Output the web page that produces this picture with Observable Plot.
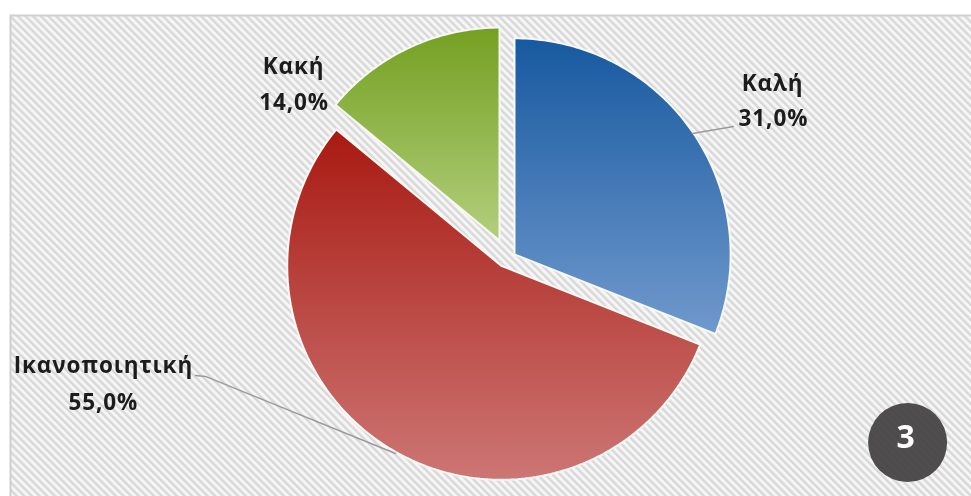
<!DOCTYPE html>
<html>
<head>
<meta charset="utf-8">
<style>
html,body{margin:0;padding:0;background:#fff;overflow:hidden}
svg{display:block}
svg text.lab, .lab text{letter-spacing:0.9px}
</style>
<script src="https://cdn.jsdelivr.net/npm/d3@7"></script>
<script src="https://cdn.jsdelivr.net/npm/@observablehq/plot@0.6"></script>
</head>
<body>
<div id="chart"></div>
<script>
// Data
const categories = ["Καλή", "Ικανοποιητική", "Κακή"];
const shares = [31, 55, 14];
const badge = "3";

// Layout (one pie radius = 1 on both position scales)
const W = 971, H = 496, R = 214, CX = 505, CY = 255;
const explodeX = [0.042, -0.020, -0.028];
const explodeY = [-0.005, 0.048, -0.070];
const radii = [1.01, 1.0, 0.995];
const gradientStops = [["#17599f", "#7099cd"], ["#a81a12", "#cd7674"], ["#74a021", "#b3cf7d"]];
const labelNameX = [1.248, -1.879, -0.990];
const labelNameY = [-0.804, 0.514, -0.883];
const labelValueX = [1.252, -1.879, -0.988];
const labelValueY = [-0.640, 0.687, -0.715];

const fmt = v => v.toFixed(1).replace(".", ",") + "%";
const total = d3.sum(shares);

// Slice outlines from cumulative shares
let cum = 0;
const slices = shares.map((v, i) => {
  const a0 = cum / total * 2 * Math.PI;
  cum += v;
  const a1 = cum / total * 2 * Math.PI;
  const pts = [{x: explodeX[i], y: explodeY[i]}];
  const n = Math.ceil((a1 - a0) / (Math.PI / 180));
  for (let k = 0; k <= n; k++) {
    const a = a0 + (a1 - a0) * k / n;
    pts.push({x: explodeX[i] + radii[i] * Math.sin(a), y: explodeY[i] - radii[i] * Math.cos(a)});
  }
  pts.push(pts[0]);
  return pts;
});

const leaders = [
  [{x: 0.874, y: -0.570}, {x: 1.065, y: -0.603}],
  [{x: -1.449, y: 0.561}, {x: -1.402, y: 0.565}, {x: -0.514, y: 0.925}]
];

const nameLabels = categories.map((c, i) => ({x: labelNameX[i], y: labelNameY[i], t: c}));
const valueLabels = shares.map((v, i) => ({x: labelValueX[i], y: labelValueY[i], t: fmt(v)}));

function defs() {
  const g = d3.create("svg:defs");
  const p = g.append("pattern").attr("id", "hatch").attr("patternUnits", "userSpaceOnUse")
    .attr("width", 5.4).attr("height", 5.4).attr("patternTransform", "rotate(-45)");
  p.append("rect").attr("width", 5.4).attr("height", 5.4).attr("fill", "#f6f6f6");
  p.append("rect").attr("width", 2.4).attr("height", 5.4).attr("fill", "#d8d8d8");
  gradientStops.forEach((s, i) => {
    const lg = g.append("linearGradient").attr("id", "grad" + i)
      .attr("x1", 0).attr("y1", 0).attr("x2", 0).attr("y2", 1);
    lg.append("stop").attr("offset", "0%").attr("stop-color", s[0]);
    lg.append("stop").attr("offset", "100%").attr("stop-color", s[1]);
  });
  return g.node();
}

const labelFont = {
  className: "lab",
  fontFamily: "'Open Sans', sans-serif", fontWeight: 700, fontSize: 22.5,
  fill: "#1c1c1c", stroke: null, lineAnchor: "middle", textAnchor: "middle"
};

const chart = Plot.plot({
  width: W, height: H,
  marginTop: 0, marginRight: 0, marginBottom: 0, marginLeft: 0,
  x: {domain: [-CX / R, (W - CX) / R], range: [0, W], axis: null},
  y: {domain: [-CY / R, (H - CY) / R], range: [0, H], axis: null},
  style: {background: "#fff", filter: "blur(0.45px)"},
  marks: [
    defs,
    Plot.frame({fill: "url(#hatch)", stroke: "#cfcfcf", strokeWidth: 2, insetLeft: 10, insetTop: 15, insetRight: -4, insetBottom: -4}),
    ...slices.map((pts, i) => Plot.line(pts, {
      x: "x", y: "y", curve: "linear",
      fill: `url(#grad${i})`, stroke: "#f7f9f5", strokeWidth: 2, strokeLinejoin: "miter"
    })),
    ...leaders.map(l => Plot.line(l, {x: "x", y: "y", curve: "linear", stroke: "#9a9a9a", strokeWidth: 1.5})),
    Plot.text(nameLabels, {x: "x", y: "y", text: "t", ...labelFont}),
    Plot.text(valueLabels, {x: "x", y: "y", text: "t", ...labelFont}),
    Plot.dot([{x: 1.879, y: 0.874}], {x: "x", y: "y", r: 39.5, fill: "#464343", fillOpacity: 0.95, stroke: null}),
    Plot.text([{x: 1.87, y: 0.85, t: badge}], {
      x: "x", y: "y", text: "t", fill: "#fff", fontSize: 32, fontWeight: 700,
      fontFamily: "'Open Sans', sans-serif", lineAnchor: "middle"
    })
  ]
});
document.getElementById("chart").append(chart);
</script>
</body>
</html>
